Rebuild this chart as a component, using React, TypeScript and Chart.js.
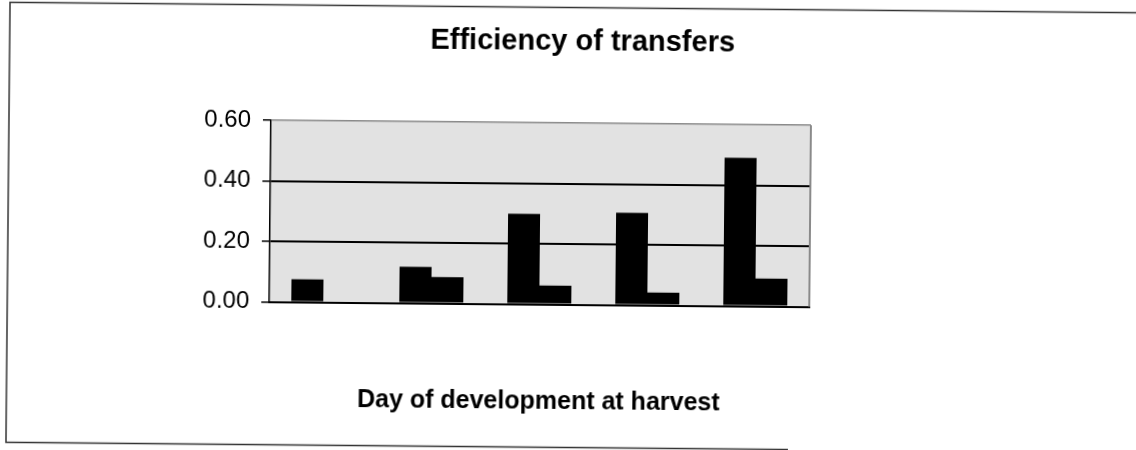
import React, { useEffect, useRef } from "react";
import { Chart, registerables } from "chart.js";

Chart.register(...registerables);

const categories = ["1", "2", "3", "4", "5"];
const seriesA = [0.075, 0.12, 0.298, 0.305, 0.49];
const seriesB = [null, 0.087, 0.062, 0.042, 0.092];
const yTicks = [0, 0.2, 0.4, 0.6];
const titleText = "Efficiency of transfers";
const xTitleText = "Day of development at harvest";

const FONT = "'Liberation Sans', Arial, Helvetica, sans-serif";

const decorPlugin = {
  id: "decor",
  beforeDraw(chart: any) {
    const { ctx, chartArea } = chart;
    ctx.save();
    ctx.fillStyle = "#e2e2e2";
    ctx.fillRect(chartArea.left, chartArea.top, chartArea.right - chartArea.left, chartArea.bottom - chartArea.top);
    ctx.restore();
  },
  afterDraw(chart: any) {
    const { ctx, chartArea } = chart;
    ctx.save();
    // right border of plot
    ctx.strokeStyle = "#8a8a8a";
    ctx.lineWidth = 2;
    ctx.beginPath();
    ctx.moveTo(chartArea.right, chartArea.top);
    ctx.lineTo(chartArea.right, chartArea.bottom);
    ctx.stroke();
    // outer frame
    ctx.strokeStyle = "#333";
    ctx.lineWidth = 1.5;
    ctx.beginPath();
    ctx.moveTo(1136, 7.5);
    ctx.lineTo(8, 7.5);
    ctx.lineTo(8, 447.5);
    ctx.lineTo(790, 447.5);
    ctx.stroke();
    // titles
    ctx.fillStyle = "#000";
    ctx.textAlign = "center";
    ctx.textBaseline = "alphabetic";
    ctx.font = `bold 29px ${FONT}`;
    ctx.fillText(titleText, 581, 50);
    ctx.font = `bold 25px ${FONT}`;
    ctx.fillText(xTitleText, (chartArea.left + chartArea.right) / 2, 408.5);
    ctx.restore();
  },
};

export default function App() {
  const ref = useRef<HTMLCanvasElement | null>(null);
  useEffect(() => {
    if (!ref.current) return;
    const chart = new Chart(ref.current, {
      type: "bar",
      data: {
        labels: categories,
        datasets: [
          { label: "A", data: seriesA as any, backgroundColor: "#000", borderWidth: 0 },
          { label: "B", data: seriesB as any, backgroundColor: "#000", borderWidth: 0 },
        ],
      },
      options: {
        responsive: false,
        animation: false,
        layout: { padding: { left: 0, top: 123, right: 326, bottom: 145.5 } },
        datasets: { bar: { categoryPercentage: 0.5926, barPercentage: 1 } },
        plugins: { legend: { display: false }, tooltip: { enabled: false }, title: { display: false } },
        scales: {
          x: {
            ticks: { display: false },
            grid: { display: false, drawTicks: false },
            border: { display: true, color: "#000", width: 2 },
            afterFit: (s: any) => { s.height = 0; },
          },
          y: {
            min: 0,
            max: 0.6,
            afterBuildTicks: (s: any) => { s.ticks = yTicks.map((v) => ({ value: v })); },
            ticks: {
              callback: (v: any) => Number(v).toFixed(2),
              color: "#000",
              font: { family: FONT, size: 24 },
              padding: 12,
            },
            grid: {
              color: (c: any) => (c.tick && Math.abs(c.tick.value - 0.6) < 1e-6 ? "#8a8a8a" : "#000"),
              lineWidth: (c: any) => (c.tick && Math.abs(c.tick.value - 0.6) < 1e-6 ? 1.5 : 2),
              tickColor: "#000",
              tickLength: 8,
              tickWidth: 1.5,
            },
            border: { display: true, color: "#000", width: 1.5 },
            afterFit: (s: any) => { s.width = 270; },
          },
        },
      },
      plugins: [decorPlugin],
    });
    return () => chart.destroy();
  }, []);
  return (
    <div style={{ position: "fixed", left: 0, top: 0, width: 1136, height: 450, background: "#fff" }}>
      <canvas
        ref={ref}
        width={1136}
        height={450}
        style={{ display: "block", width: 1136, height: 450, transform: "rotate(0.53deg)" }}
      />
    </div>
  );
}
